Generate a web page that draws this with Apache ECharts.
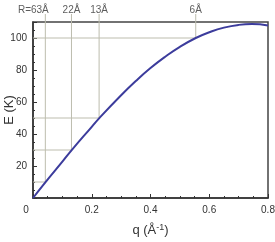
<!DOCTYPE html>
<html>
<head>
<meta charset="utf-8">
<script src="https://cdn.jsdelivr.net/npm/echarts@6/dist/echarts.min.js"></script>
<style>html,body{margin:0;padding:0;background:#fff;}#c{width:275px;height:242px;}</style>
</head>
<body>
<div id="c"></div>
<script>
var qValues = [0, 0.042, 0.1, 0.131, 0.2, 0.225, 0.3, 0.35, 0.4, 0.45, 0.5, 0.554, 0.6, 0.65, 0.7, 0.745, 0.8];
var eValues = [0, 9.8, 22.7, 29.8, 44.5, 49.8, 64.2, 73.1, 81.2, 88.3, 94.5, 100, 103.6, 106.5, 108.2, 108.7, 107.8];
var guideQ = [0.042, 0.131, 0.225, 0.554];
var guideE = [10, 30, 50, 100];
var guideLabels = ['R=63Å', '22Å', '13Å', '6Å'];
var guideTop = 115;

var font = 'Liberation Sans';
var chart = echarts.init(document.getElementById('c'), null, {renderer: 'canvas'});
var series = [];
guideQ.forEach(function (q, i) {
  series.push({
    type: 'line',
    data: [[q, guideTop], [q, guideE[i]], [0, guideE[i]]],
    showSymbol: false,
    symbol: 'none',
    clip: false,
    silent: true,
    lineStyle: {color: '#bdbdae', width: 1},
    z: 1
  });
});
series.push({
  type: 'scatter',
  clip: false,
  silent: true,
  symbolSize: 2,
  itemStyle: {color: 'rgba(255,255,255,0)'},
  data: guideQ.map(function (q, i) {
    return {value: [q, guideTop], label: {offset: [i === 0 ? -12 : 0, 0]}};
  }),
  label: {
    show: true, position: 'top', distance: -2,
    formatter: function (p) { return guideLabels[p.dataIndex]; },
    color: '#333', fontSize: 10, fontFamily: font
  },
  z: 2
});
series.push({
  type: 'line',
  data: qValues.map(function (q, i) { return [q, eValues[i]]; }),
  smooth: 0.5,
  showSymbol: false,
  symbol: 'none',
  lineStyle: {color: '#3c3c9c', width: 2},
  z: 5
});
chart.setOption({
  animation: false,
  grid: {left: 33, top: 22, right: 7, bottom: 44, containLabel: false, outerBoundsMode: 'none', show: true, borderColor: '#444', borderWidth: 1.5, backgroundColor: 'transparent'},
  xAxis: {
    type: 'value', min: 0, max: 0.8, interval: 0.2,
    name: 'q (Å{sup|-1})', nameLocation: 'middle', nameGap: 25, nameMoveOverlap: false,
    nameTextStyle: {fontSize: 13, color: '#333', fontFamily: font, rich: {sup: {fontSize: 9, verticalAlign: 'top', padding: [0, 0, 6, 0], color: '#333', fontFamily: font}}},
    axisLine: {lineStyle: {color: '#333', width: 1.5}},
    axisTick: {inside: true, length: 4, lineStyle: {color: '#333'}},
    minorTick: {show: true, splitNumber: 4, length: 2, lineStyle: {color: '#333'}},
    splitLine: {show: false},
    axisLabel: {fontSize: 10, color: '#333', fontFamily: font, margin: 7,
      formatter: function (v) { return v === 0 ? '{z|0}' : String(v); },
      rich: {z: {padding: [0, 14, 0, 0], fontSize: 10, color: '#333', fontFamily: font}}}
  },
  yAxis: {
    type: 'value', min: 0, max: 110, interval: 20,
    name: 'E (K)', nameLocation: 'middle', nameGap: 17, nameRotate: 90, nameMoveOverlap: false,
    nameTextStyle: {fontSize: 13, color: '#333', fontFamily: font},
    axisLine: {lineStyle: {color: '#333', width: 1.5}},
    axisTick: {inside: true, length: 4, lineStyle: {color: '#333'}},
    minorTick: {show: true, splitNumber: 4, length: 2, lineStyle: {color: '#333'}},
    splitLine: {show: false},
    axisLabel: {fontSize: 10, color: '#333', fontFamily: font, margin: 6, showMinLabel: false, showMaxLabel: false}
  },
  series: series
});
</script>
</body>
</html>
